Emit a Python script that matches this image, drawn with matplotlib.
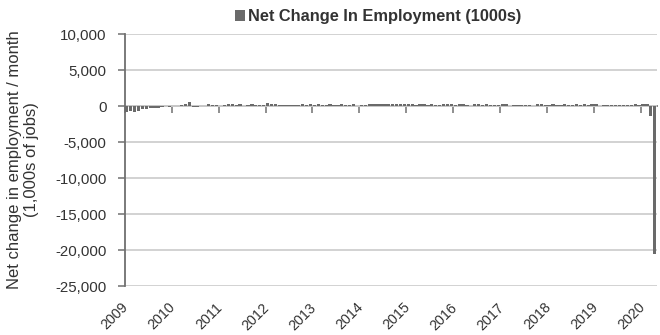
import matplotlib
matplotlib.use("Agg")
import matplotlib.pyplot as plt
from matplotlib.ticker import FuncFormatter
from matplotlib.transforms import ScaledTranslation
import numpy as np

plt.rcParams['font.family'] = ['Liberation Sans', 'DejaVu Sans']

# Monthly net change in nonfarm payroll employment (thousands), Jan 2009 - Apr 2020
values = [
    # 2009
    -784, -743, -800, -695, -347, -470, -331, -214, -254, -202, 1, -170,
    # 2010
    -14, -39, 163, 243, 522, -133, -70, -34, -52, 262, 119, 87,
    # 2011
    43, 189, 225, 346, 77, 225, 69, 110, 248, 209, 141, 209,
    # 2012
    360, 226, 243, 96, 110, 88, 160, 150, 161, 225, 203, 214,
    # 2013
    190, 311, 135, 192, 218, 146, 140, 269, 185, 189, 291, 45,
    # 2014
    187, 168, 272, 310, 213, 306, 232, 218, 273, 234, 312, 255,
    # 2015
    234, 238, 86, 262, 344, 206, 254, 157, 100, 321, 272, 239,
    # 2016
    126, 237, 225, 153, 43, 297, 291, 176, 249, 124, 164, 155,
    # 2017
    216, 232, 50, 207, 145, 210, 138, 208, 18, 271, 216, 175,
    # 2018
    176, 324, 155, 175, 268, 208, 178, 282, 108, 277, 196, 227,
    # 2019
    312, 1, 147, 210, 85, 182, 194, 207, 208, 185, 261, 184,
    # 2020
    214, 251, -1373, -20537,
]
year_labels = ["2009", "2010", "2011", "2012", "2013", "2014",
               "2015", "2016", "2017", "2018", "2019", "2020"]
y_ticks = [10000, 5000, 0, -5000, -10000, -15000, -20000, -25000]
series_name = "Net Change In Employment (1000s)"

n = len(values)
x = np.arange(n)

fig = plt.figure(figsize=(6.6, 3.35), dpi=100)
ax = fig.add_axes([0.189, 0.146, 0.806, 0.7525])

bar_color = "#6a6a6a"
ax.bar(x, values, width=0.85, color=bar_color, label=series_name, zorder=3)

ax.set_xlim(-0.5, n - 0.5)
ax.set_ylim(-25000, 10000)
ax.set_yticks(y_ticks)
ax.yaxis.set_major_formatter(FuncFormatter(lambda v, p: f"{v:,.0f}"))
ax.grid(axis='y', color="#cfcfcf", linewidth=1.3, zorder=0)
ax.set_axisbelow(True)

for s in ['top', 'right', 'bottom']:
    ax.spines[s].set_visible(False)
ax.spines['left'].set_color("#707070")
ax.spines['left'].set_linewidth(1.3)
ax.tick_params(axis='y', direction='out', length=5, width=1.1, color="#707070",
               labelsize=10.8, labelcolor="#333333", pad=8)

tick_pos = [12 * i - 0.5 for i in range(len(year_labels))]
ax.set_xticks(tick_pos)
ax.set_xticklabels(year_labels, rotation=45, ha='right', rotation_mode='anchor',
                   fontsize=10.3, color="#333333")
ax.tick_params(axis='x', length=0, pad=8)
shift = ScaledTranslation(-0.035, -0.03, fig.dpi_scale_trans)
for lab in ax.get_xticklabels():
    lab.set_transform(lab.get_transform() + shift)

# category axis crossing at zero with its tick marks
sec = ax.secondary_xaxis(25000 / 35000)
sec.xaxis.set_ticks_position('bottom')
sec.set_xticks(tick_pos)
sec.set_xticklabels([])
sec.tick_params(axis='x', direction='out', length=5, width=1.1, color="#707070")
for s in sec.spines:
    sec.spines[s].set_color("#707070")
    sec.spines[s].set_linewidth(1.3)

ax.set_ylabel("Net change in employment / month\n(1,000s of jobs)", fontsize=12,
              color="#333333", linespacing=1.1)
ax.yaxis.set_label_coords(-0.162, 0.5)

leg = ax.legend(loc='lower center', bbox_to_anchor=(0.476, 1.0), frameon=False,
                handlelength=0.6, handleheight=0.6, handletextpad=0.2,
                prop={'weight': 'bold', 'size': 11.8}, borderaxespad=0.2)
for t in leg.get_texts():
    t.set_color("#333333")

fig.savefig("out.png", dpi=100)
